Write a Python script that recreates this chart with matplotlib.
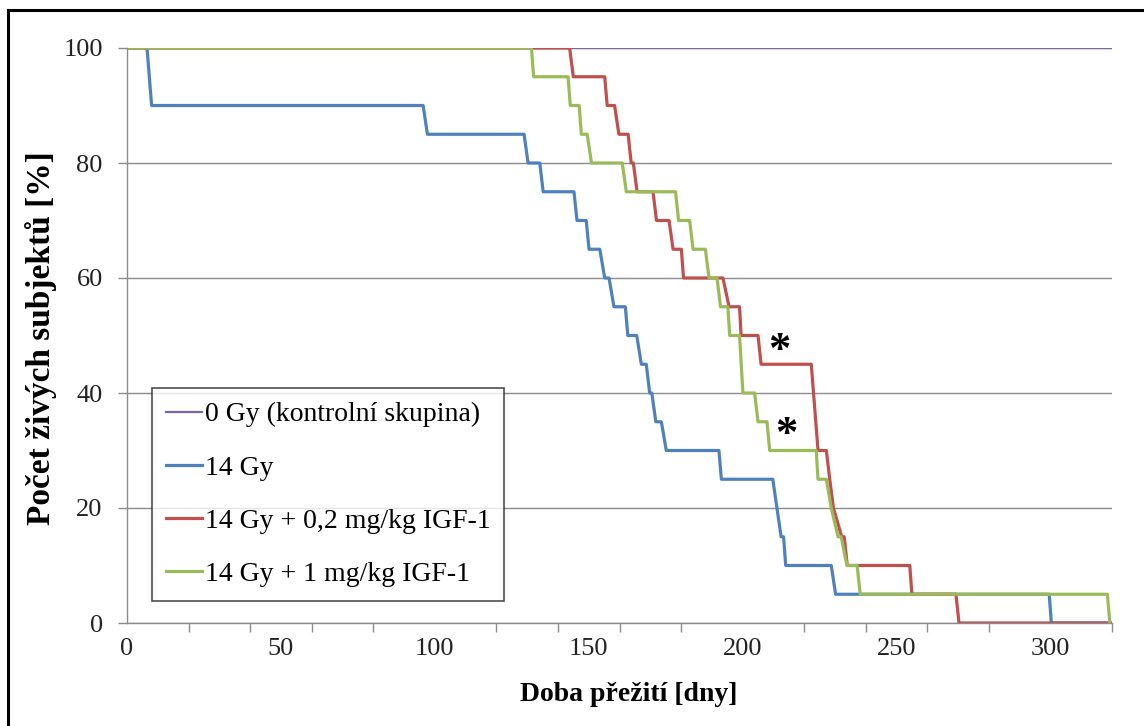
import matplotlib
matplotlib.use("Agg")
import matplotlib.pyplot as plt
from matplotlib.lines import Line2D

plt.rcParams['font.family'] = ['Liberation Serif', 'DejaVu Serif']

# survival curves (x = days, y = % alive)
ctrl_x = [0, 320]
ctrl_y = [100, 100]

gy14_x = [0, 6.5, 8, 96.2, 97.6, 129, 130.3, 134.1, 135.2, 145.2, 146.2, 149.2, 150.1,
          153.6, 155.2, 156.6, 158.2, 161.9, 162.7, 165.6, 167.1, 168.7, 169.8, 170.5,
          171.8, 173.6, 175.2, 192.3, 193.1, 209.8, 212.5, 213.3, 214, 228.8, 230.2,
          299.6, 300.3, 320]
gy14_y = [100, 100, 90, 90, 85, 85, 80, 80, 75, 75, 70, 70, 65, 65, 60, 60, 55, 55,
          50, 50, 45, 45, 40, 40, 35, 35, 30, 30, 25, 25, 15, 15, 10, 10, 5, 5, 0, 0]

igf02_x = [0, 143.8, 145, 155.2, 156, 158.4, 159.8, 162.8, 163.8, 164.5, 165.7, 170.9,
           172, 176.1, 177.4, 180.1, 180.8, 193.6, 195.6, 199, 199.5, 205, 206, 222.3,
           224.5, 227.2, 228.3, 229.5, 232.2, 233, 234, 254.3, 255, 269.3, 270.3, 320]
igf02_y = [100, 100, 95, 95, 90, 90, 85, 85, 80, 80, 75, 75, 70, 70, 65, 65, 60, 60,
           55, 55, 50, 50, 45, 45, 30, 30, 25, 20, 15, 15, 10, 10, 5, 5, 0, 0]

igf1_x = [0, 131.4, 132.1, 143.3, 144, 146.9, 147.6, 149.5, 150.9, 160.9, 162.2, 178.2,
          179.2, 182.8, 183.9, 187.9, 189.1, 191.7, 192.8, 195.2, 195.8, 199, 200.1,
          203.9, 205, 207.9, 208.8, 223.9, 224.5, 227.2, 228.8, 231, 232, 233.9, 237.2,
          238.2, 318.5, 319.3]
igf1_y = [100, 100, 95, 95, 90, 90, 85, 85, 80, 80, 75, 75, 70, 70, 65, 65, 60, 60,
          55, 55, 50, 50, 40, 40, 35, 35, 30, 30, 25, 25, 20, 15, 15, 10, 10, 5, 5, 0]

labels = ['0 Gy (kontrolní skupina)', '14 Gy', '14 Gy + 0,2 mg/kg IGF-1', '14 Gy + 1 mg/kg IGF-1']
colors = ['#8064A2', '#4F81BD', '#C0504D', '#9BBB59']

# significance marks
star_x = [212, 214.3]
star_y = [47.3, 32.7]

fig = plt.figure(figsize=(11.44, 7.26), dpi=100)
ax = fig.add_axes([127/1144, 1-623/726, 985/1144, 575/726])

ax.plot(ctrl_x, ctrl_y, color=colors[0], lw=1.6, label=labels[0])
ax.plot(gy14_x, gy14_y, color=colors[1], lw=2.3, label=labels[1])
ax.plot(igf02_x, igf02_y, color=colors[2], lw=2.3, label=labels[2])
ax.plot(igf1_x, igf1_y, color=colors[3], lw=2.3, label=labels[3])

for sx, sy in zip(star_x, star_y):
    ax.text(sx, sy, '*', fontsize=32, fontweight='bold', ha='center', va='center')

ax.set_xlim(0, 320)
ax.set_ylim(0, 100)
ax.set_xticks(range(0, 301, 50))
ax.set_xticks(range(0, 321, 20), minor=True)
ax.set_yticks(range(0, 101, 20))
ax.tick_params(axis='x', which='major', length=0, pad=11, labelsize=19, labelcolor='#222')
ax.tick_params(axis='x', which='minor', length=6.5, width=1, color='#8c8c8c', direction='out')
ax.tick_params(axis='y', length=6.5, width=1, color='#8c8c8c', pad=11, labelsize=19, labelcolor='#222')
ax.grid(axis='y', color='#8c8c8c', lw=1)
ax.set_axisbelow(True)
for s in ['top', 'right']:
    ax.spines[s].set_visible(False)
for s in ['left', 'bottom']:
    ax.spines[s].set_color('#8c8c8c')
    ax.spines[s].set_linewidth(1)

ax.set_xlabel('Doba přežití [dny]', fontsize=20, fontweight='bold')
ax.set_ylabel('Počet živých subjektů [%]', fontsize=24, fontweight='bold')
ax.xaxis.set_label_coords(0.509, -0.1025)
ax.yaxis.set_label_coords(-0.071, 0.496)

leg = ax.legend(loc='lower left', bbox_to_anchor=((152-127)/985, (623-601)/575),
                borderaxespad=0, fontsize=20, frameon=True, fancybox=False,
                edgecolor='#222', handlelength=1.3, handletextpad=0.1,
                labelspacing=1.0, borderpad=0.5)
leg.get_frame().set_linewidth(1.2)

# page border (top and left only)
fig.add_artist(Line2D([8/1144, 1], [1-10/726, 1-10/726], color='black', lw=2.2))
fig.add_artist(Line2D([8/1144, 8/1144], [0, 1-10/726], color='black', lw=2.2))

fig.savefig('out.png', dpi=100)
